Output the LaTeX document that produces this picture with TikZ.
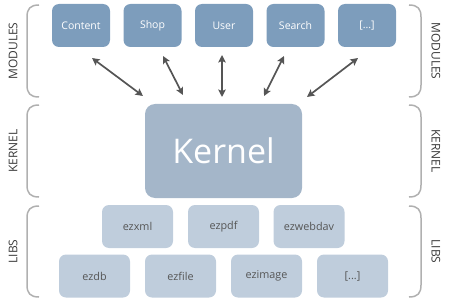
\documentclass[tikz,border=0pt]{standalone}
\usepackage{fontspec}
\setmainfont{Open Sans}
\usetikzlibrary{arrows.meta}
\definecolor{modc}{HTML}{7D9DBC}
\definecolor{kerc}{HTML}{A4B6C9}
\definecolor{libc}{HTML}{BFCDDC}
\definecolor{arrc}{HTML}{555555}
\definecolor{brc}{HTML}{B0B0B0}
\definecolor{libt}{HTML}{555555}
\definecolor{lblt}{HTML}{3A3A3A}
\begin{document}
\begin{tikzpicture}[x=1pt,y=-1pt,
  modbox/.style={fill=modc,draw=none,rounded corners=7pt,minimum width=58pt,minimum height=43pt,text=white,font=\fontsize{10.5}{12}\selectfont,inner sep=0pt},
  kerbox/.style={fill=kerc,draw=none,rounded corners=10pt,minimum width=157pt,minimum height=94pt,text=white,font=\fontsize{34}{40}\selectfont,inner sep=0pt},
  libbox/.style={fill=libc,draw=none,rounded corners=7pt,minimum width=71pt,minimum height=43pt,text=libt,font=\fontsize{10.8}{12}\selectfont,inner sep=0pt},
  conn/.style={draw=arrc,line width=1.7pt,{Stealth[length=7.5pt,width=7.5pt,inset=1.5pt]}-{Stealth[length=7.5pt,width=7.5pt,inset=1.5pt]}},
  brk/.style={draw=brc,line width=1.5pt},
  lbl/.style={text=lblt,font=\fontsize{12}{14}\selectfont,inner sep=0pt}]
\useasboundingbox (0,0) rectangle (449,302);
% modules
\node[modbox] (content) at (81,25.5) {Content};
\node[modbox] (shop) at (152.5,25.5) {Shop};
\node[modbox] (user) at (224,25.5) {User};
\node[modbox] (search) at (295.5,25.5) {Search};
\node[modbox] (more) at (367,25.5) {[...]};
% kernel
\node[kerbox] (kernel) at (223.5,151) {Kernel};
% libs
\node[libbox] (ezxml) at (137.5,226.5) {ezxml};
\node[libbox] (ezpdf) at (223.5,226.5) {ezpdf};
\node[libbox] (ezwebdav) at (309,226.5) {ezwebdav};
\node[libbox] (ezdb) at (94.5,276) {ezdb};
\node[libbox] (ezfile) at (180.5,276) {ezfile};
\node[libbox] (ezimage) at (266.5,276) {ezimage};
\node[libbox] (libmore) at (352.5,276) {[...]};
% connectors
\coordinate (a1) at (92,58); \coordinate (b1) at (143,96);
\coordinate (a2) at (163,56); \coordinate (b2) at (183,95);
\coordinate (a3) at (222,55); \coordinate (b3) at (222,97);
\coordinate (a4) at (284,56); \coordinate (b4) at (264,96);
\coordinate (a5) at (358,58); \coordinate (b5) at (307,97);
\draw[conn] (a1) -- (b1);
\draw[conn] (a2) -- (b2);
\draw[conn] (a3) -- (b3);
\draw[conn] (a4) -- (b4);
\draw[conn] (a5) -- (b5);
% brackets
\foreach \t/\b in {5/97, 105/197, 206/297}{
  \draw[brk] (39,\t) .. controls (30,\t) and (27,\t+4) .. (27,\t+12) -- (27,\b-12) .. controls (27,\b-4) and (30,\b) .. (39,\b);
  \draw[brk] (409,\t) .. controls (418,\t) and (421,\t+4) .. (421,\t+12) -- (421,\b-12) .. controls (421,\b-4) and (418,\b) .. (409,\b);
}
% labels
\node[lbl,rotate=90] (lm) at (13,51) {MODULES};
\node[lbl,rotate=90] (lk) at (13,151) {KERNEL};
\node[lbl,rotate=90] (ll) at (13,251.5) {LIBS};
\node[lbl,rotate=-90] (rm) at (436,51) {MODULES};
\node[lbl,rotate=-90] (rk) at (436,151) {KERNEL};
\node[lbl,rotate=-90] (rl) at (436,251.5) {LIBS};
\end{tikzpicture}
\end{document}
